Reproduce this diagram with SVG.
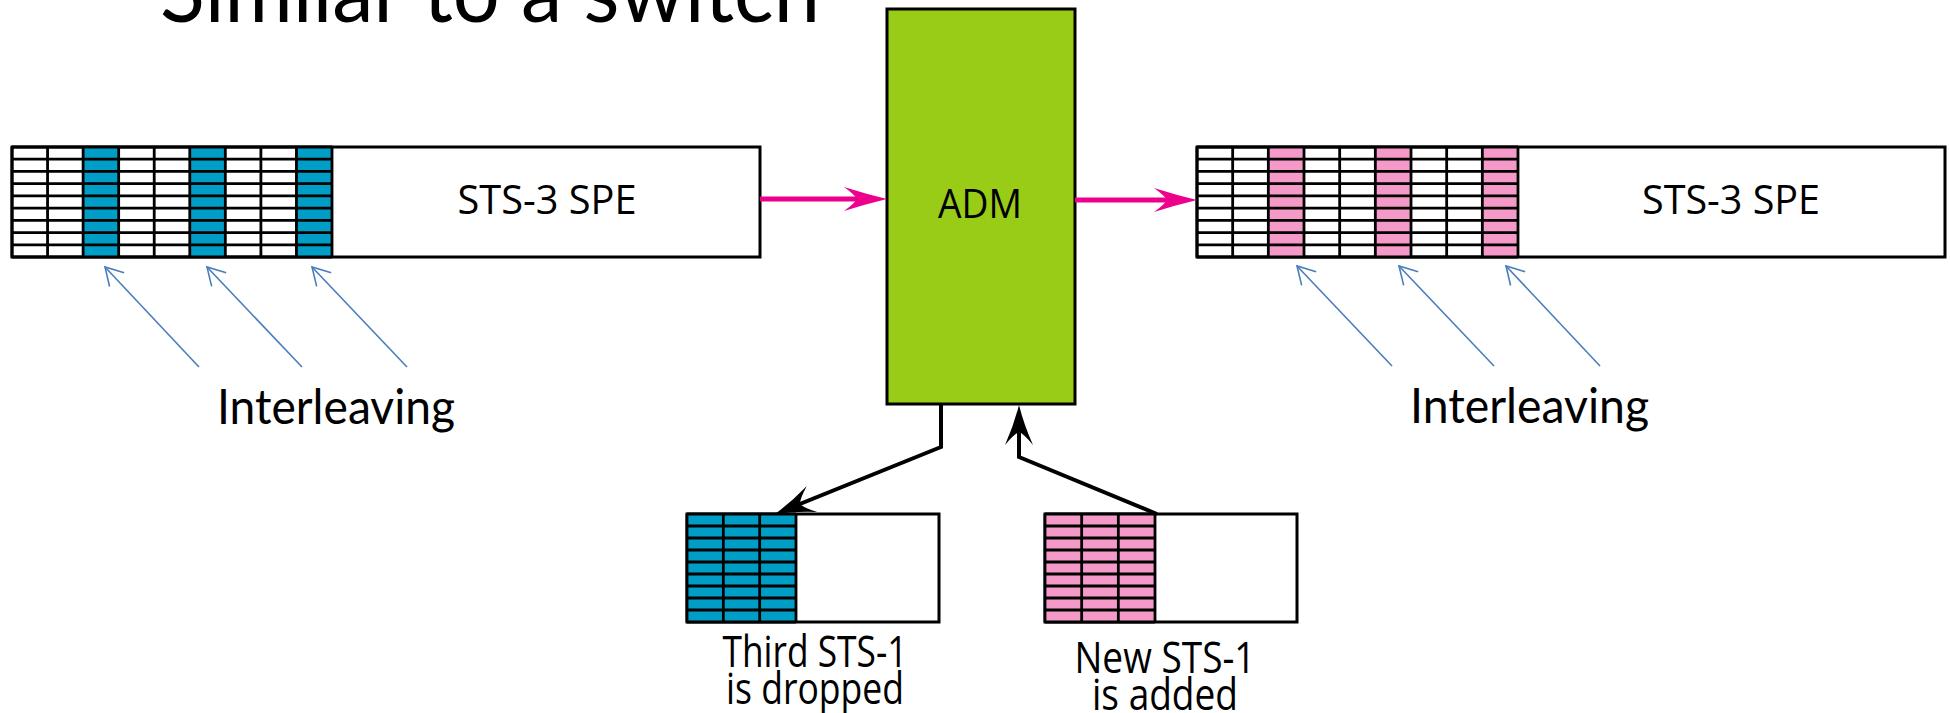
<svg xmlns="http://www.w3.org/2000/svg" width="1950" height="713" viewBox="0 0 1950 713">
<style>
.frame{fill:#fff;stroke:#000;stroke-width:3}
.grid{fill:none;stroke:#000;stroke-width:2.8}
.blue{fill:#009ec6}
.pink{fill:#f59ac8}
.lbl{font-family:"Open Sans","Noto Sans","Liberation Sans",sans-serif;font-size:41px;fill:#000;text-anchor:middle}
.sub{font-size:43px}
.cal{font-family:Lato,"Open Sans","Liberation Sans",sans-serif;fill:#000}
.pinkline{fill:none;stroke:#ec008c;stroke-width:5}
.blk{fill:none;stroke:#000;stroke-width:4}
.bl{fill:none;stroke:#4a7ebb;stroke-width:1.6}
</style>
<defs>
<marker id="pk" viewBox="-30 -14 48 28" markerWidth="48" markerHeight="28" refX="0" refY="0" orient="auto" markerUnits="userSpaceOnUse" overflow="visible">
<path d="M15,0 Q-6,-5 -28,-12 Q-17,-4 -15,0 Q-17,4 -28,12 Q-6,5 15,0 Z" fill="#ec008c"/>
</marker>
<marker id="bk" viewBox="-30 -16 46 32" markerWidth="46" markerHeight="32" refX="0" refY="0" orient="auto" markerUnits="userSpaceOnUse" overflow="visible">
<path d="M12,0 Q-8,-5 -28,-14 Q-17,-5 -15,0 Q-17,5 -28,14 Q-8,5 12,0 Z" fill="#000"/>
</marker>
<marker id="op" viewBox="-20 -12 22 24" markerWidth="22" markerHeight="24" refX="0" refY="0" orient="auto" markerUnits="userSpaceOnUse" overflow="visible">
<path d="M-17.3,-10 L0,0 L-17.3,10" fill="none" stroke="#4a7ebb" stroke-width="1.6"/>
</marker>
</defs>

<g id="title">
<text class="cal" x="89" y="-4" font-size="60" fill="#777">•</text>
<text class="cal" x="160" y="22" font-size="88" textLength="660" lengthAdjust="spacingAndGlyphs">Similar to a switch</text>
</g>

<g id="frame-in">
<rect class="frame" x="12" y="147" width="748" height="110"/>
<rect class="blue" x="83.11" y="147" width="35.56" height="110"/>
<rect class="blue" x="189.78" y="147" width="35.56" height="110"/>
<rect class="blue" x="296.44" y="147" width="35.56" height="110"/>
<path class="grid" d="M12,147H332M12,159.22H332M12,171.44H332M12,183.67H332M12,195.89H332M12,208.11H332M12,220.33H332M12,232.56H332M12,244.78H332M12,257H332M12,147V257M47.56,147V257M83.11,147V257M118.67,147V257M154.22,147V257M189.78,147V257M225.33,147V257M260.89,147V257M296.44,147V257M332,147V257"/>
<text class="lbl" x="547" y="214" textLength="179" lengthAdjust="spacingAndGlyphs">STS-3 SPE</text>
</g>

<g id="adm">
<rect x="887" y="9" width="188" height="395" fill="#99cc17" stroke="#000" stroke-width="3"/>
<text class="lbl" x="980" y="218" textLength="84" lengthAdjust="spacingAndGlyphs">ADM</text>
</g>

<g id="frame-out">
<rect class="frame" x="1197" y="147" width="748" height="110"/>
<rect class="pink" x="1268.33" y="147" width="35.67" height="110"/>
<rect class="pink" x="1375.33" y="147" width="35.67" height="110"/>
<rect class="pink" x="1482.33" y="147" width="35.67" height="110"/>
<path class="grid" d="M1197,147H1518M1197,159.22H1518M1197,171.44H1518M1197,183.67H1518M1197,195.89H1518M1197,208.11H1518M1197,220.33H1518M1197,232.56H1518M1197,244.78H1518M1197,257H1518M1197,147V257M1232.67,147V257M1268.33,147V257M1304,147V257M1339.67,147V257M1375.33,147V257M1411,147V257M1446.67,147V257M1482.33,147V257M1518,147V257"/>
<text class="lbl" x="1731" y="214" textLength="178" lengthAdjust="spacingAndGlyphs">STS-3 SPE</text>
</g>

<g id="dropped">
<rect class="frame" x="687" y="514" width="252" height="108"/>
<rect class="blue" x="687" y="514" width="109" height="108"/>
<path class="grid" d="M687,514H796M687,526H796M687,538H796M687,550H796M687,562H796M687,574H796M687,586H796M687,598H796M687,610H796M687,622H796M687,514V622M723.33,514V622M759.67,514V622M796,514V622"/>
<text class="lbl sub" x="815" y="667" textLength="185" lengthAdjust="spacingAndGlyphs">Third STS-1</text>
<text class="lbl sub" x="815" y="704" textLength="178" lengthAdjust="spacingAndGlyphs">is dropped</text>
</g>

<g id="added">
<rect class="frame" x="1045" y="514" width="252" height="108"/>
<rect class="pink" x="1045" y="514" width="110" height="108"/>
<path class="grid" d="M1045,514H1155M1045,526H1155M1045,538H1155M1045,550H1155M1045,562H1155M1045,574H1155M1045,586H1155M1045,598H1155M1045,610H1155M1045,622H1155M1045,514V622M1081.67,514V622M1118.33,514V622M1155,514V622"/>
<text class="lbl sub" x="1165" y="673" textLength="181" lengthAdjust="spacingAndGlyphs">New STS-1</text>
<text class="lbl sub" x="1165" y="710" textLength="146" lengthAdjust="spacingAndGlyphs">is added</text>
</g>

<g id="interleave-left">
<text class="cal" x="217" y="424" font-size="49" textLength="238" lengthAdjust="spacingAndGlyphs">Interleaving</text>
</g>
<g id="interleave-right">
<text class="cal" x="1410" y="423" font-size="49" textLength="239" lengthAdjust="spacingAndGlyphs">Interleaving</text>
</g>

<g id="connectors">
<path class="pinkline" d="M760,199H872" marker-end="url(#pk)"/>
<path class="pinkline" d="M1075,200H1182" marker-end="url(#pk)"/>
<path class="blk" d="M941,404V447L786.1,509.5" marker-end="url(#bk)"/>
<path class="blk" d="M1157,514L1019,457V417" marker-end="url(#bk)"/>
<path class="bl" d="M199,367L105,267" marker-end="url(#op)"/>
<path class="bl" d="M302,367L207,267" marker-end="url(#op)"/>
<path class="bl" d="M407,367L312,267" marker-end="url(#op)"/>
<path class="bl" d="M1392,366L1297,266" marker-end="url(#op)"/>
<path class="bl" d="M1494,366L1399,266" marker-end="url(#op)"/>
<path class="bl" d="M1600,366L1506,266" marker-end="url(#op)"/>
</g>
</svg>
